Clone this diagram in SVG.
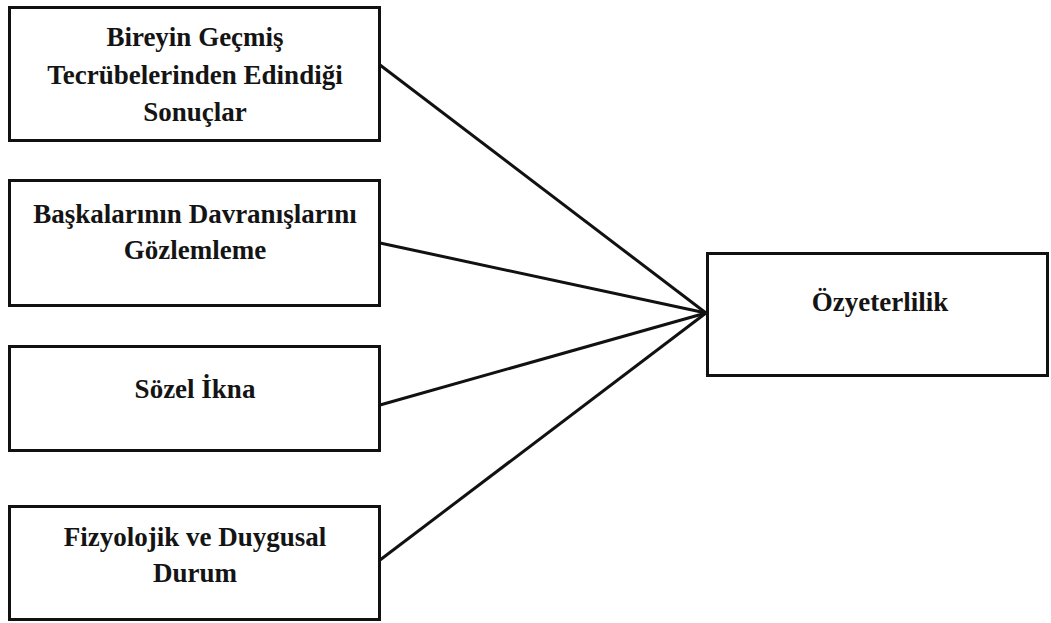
<svg xmlns="http://www.w3.org/2000/svg" width="1051" height="623" viewBox="0 0 1051 623">
<style>
.box{fill:#fff;stroke:#111;stroke-width:3}
.lbl{font-family:"Liberation Serif","Times New Roman",serif;font-weight:bold;font-size:27px;fill:#141414;text-anchor:middle}
.conn{stroke:#111;stroke-width:3;fill:none}
</style>
<rect width="1051" height="623" fill="#fff"/>
<g id="connectors">
<line class="conn" x1="380" y1="65" x2="706" y2="313"/>
<line class="conn" x1="380" y1="243" x2="706" y2="313"/>
<line class="conn" x1="380" y1="405" x2="706" y2="313"/>
<line class="conn" x1="380" y1="560" x2="706" y2="313"/>
</g>
<g id="node1">
<rect class="box" x="9.5" y="7.5" width="370" height="133"/>
<text class="lbl" x="195" y="46">Bireyin Geçmiş</text>
<text class="lbl" x="195" y="84">Tecrübelerinden Edindiği</text>
<text class="lbl" x="195" y="121">Sonuçlar</text>
</g>
<g id="node2">
<rect class="box" x="9.5" y="180.5" width="370" height="125"/>
<text class="lbl" x="195" y="223">Başkalarının Davranışlarını</text>
<text class="lbl" x="195" y="259">Gözlemleme</text>
</g>
<g id="node3">
<rect class="box" x="9.5" y="346.5" width="370" height="104"/>
<text class="lbl" x="195" y="398">Sözel İkna</text>
</g>
<g id="node4">
<rect class="box" x="9.5" y="506.5" width="370" height="113"/>
<text class="lbl" x="195" y="546">Fizyolojik ve Duygusal</text>
<text class="lbl" x="195" y="582">Durum</text>
</g>
<g id="node5">
<rect class="box" x="707.5" y="253.5" width="340" height="122"/>
<text class="lbl" x="880" y="311">Özyeterlilik</text>
</g>
</svg>
